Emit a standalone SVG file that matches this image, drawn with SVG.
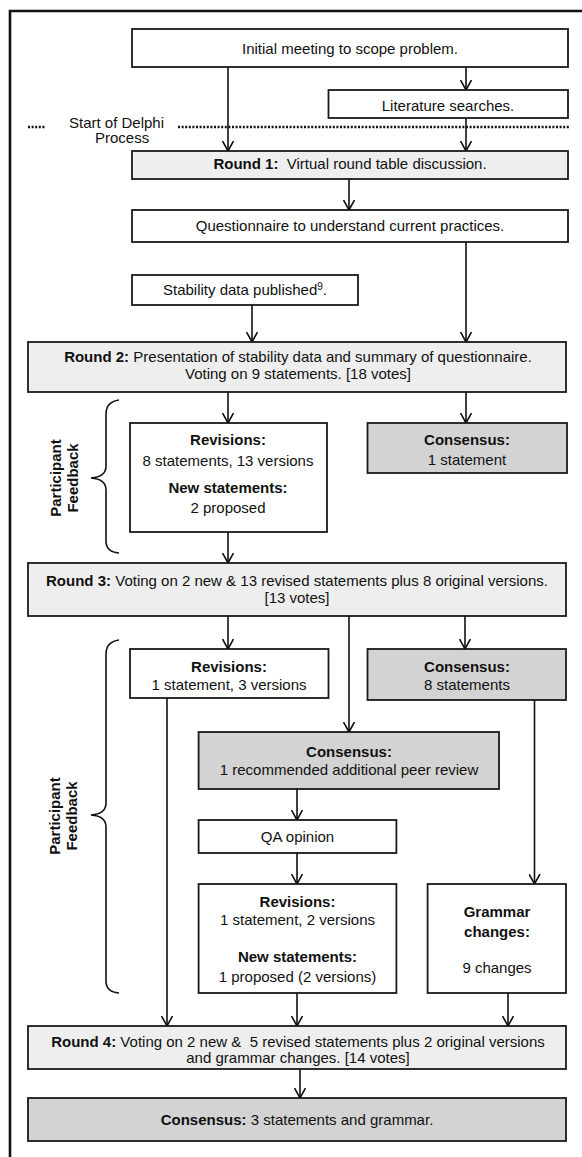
<svg xmlns="http://www.w3.org/2000/svg" width="582" height="1157" viewBox="0 0 582 1157">
<defs>
<style>
text{font-family:"Liberation Sans",Arial,sans-serif;font-size:15px;fill:#111}
.m{text-anchor:middle}
.b{font-weight:bold}
.box{fill:#fff;stroke:#1a1a1a;stroke-width:1.8}
.rd{fill:#eeeeee}
.cs{fill:#d3d3d3}
.conn line{stroke:#111;stroke-width:1.6;marker-end:url(#ah)}
.brace{fill:none;stroke:#111;stroke-width:1.6}
</style>
<marker id="ah" viewBox="0 0 10 12" refX="10" refY="6" markerWidth="10" markerHeight="12" markerUnits="userSpaceOnUse" orient="auto">
<path d="M0,0.5 L10,6 L0,11.5" fill="none" stroke="#111" stroke-width="1.6"/>
</marker>
</defs>
<rect width="582" height="1157" fill="#fff"/>
<path d="M10,1157 V11 H582" fill="none" stroke="#111" stroke-width="2.6"/>

<g id="delphi-start">
<line x1="28" y1="127" x2="46" y2="127" stroke="#111" stroke-width="2.5" stroke-dasharray="2,1.6"/>
<line x1="178" y1="127" x2="570" y2="127" stroke="#111" stroke-width="2.5" stroke-dasharray="2,1.6"/>
<text x="69" y="128">Start of Delphi</text>
<text x="95" y="143">Process</text>
</g>

<g id="initial"><rect class="box" x="132" y="29" width="436" height="38"/><text class="m" x="350" y="54">Initial meeting to scope problem.</text></g>
<g id="literature"><rect class="box" x="328.5" y="90" width="239.5" height="28"/><text class="m" x="448" y="111">Literature searches.</text></g>
<g id="round1"><rect class="box rd" x="132" y="151" width="436" height="28"/><text class="m" x="350" y="169" xml:space="preserve"><tspan class="b">Round 1:</tspan>  Virtual round table discussion.</text></g>
<g id="questionnaire"><rect class="box" x="132" y="210" width="436" height="32"/><text class="m" x="350" y="231">Questionnaire to understand current practices.</text></g>
<g id="stability"><rect class="box" x="132" y="275" width="226" height="30"/><text class="m" x="245" y="295">Stability data published<tspan font-size="10" dy="-5">9</tspan><tspan dy="5">.</tspan></text></g>
<g id="round2"><rect class="box rd" x="28" y="342" width="538" height="50"/>
<text class="m" x="298" y="362"><tspan class="b">Round 2:</tspan> Presentation of stability data and summary of questionnaire.</text>
<text class="m" x="298" y="379">Voting on 9 statements. [18 votes]</text></g>
<g id="revisions1"><rect class="box" x="130" y="423" width="197" height="109"/>
<text class="m b" x="228" y="445">Revisions:</text>
<text class="m" x="228" y="466">8 statements, 13 versions</text>
<text class="m b" x="228" y="493">New statements:</text>
<text class="m" x="228" y="513">2 proposed</text></g>
<g id="consensus1"><rect class="box cs" x="367.5" y="423" width="199.5" height="50"/>
<text class="m b" x="467" y="445">Consensus:</text>
<text class="m" x="467" y="465">1 statement</text></g>
<g id="round3"><rect class="box rd" x="28" y="563" width="538" height="53"/>
<text class="m" x="297" y="586"><tspan class="b">Round 3:</tspan> Voting on 2 new &amp; 13 revised statements plus 8 original versions.</text>
<text class="m" x="297" y="603">[13 votes]</text></g>
<g id="revisions2"><rect class="box" x="130" y="649" width="198.5" height="49"/>
<text class="m b" x="229" y="672">Revisions:</text>
<text class="m" x="229" y="690">1 statement, 3 versions</text></g>
<g id="consensus2"><rect class="box cs" x="367.5" y="649" width="198.5" height="51"/>
<text class="m b" x="467" y="672">Consensus:</text>
<text class="m" x="467" y="690">8 statements</text></g>
<g id="consensus-peer"><rect class="box cs" x="198.6" y="732" width="300.4" height="57"/>
<text class="m b" x="349" y="757">Consensus:</text>
<text class="m" x="349" y="775">1 recommended additional peer review</text></g>
<g id="qa"><rect class="box" x="198.6" y="820" width="197.8" height="33"/><text class="m" x="297.5" y="842">QA opinion</text></g>
<g id="revisions3"><rect class="box" x="198.6" y="884" width="197.8" height="109"/>
<text class="m b" x="297.5" y="907">Revisions:</text>
<text class="m" x="297.5" y="925">1 statement, 2 versions</text>
<text class="m b" x="297.5" y="962">New statements:</text>
<text class="m" x="297.5" y="982">1 proposed (2 versions)</text></g>
<g id="grammar"><rect class="box" x="427.6" y="884" width="138.4" height="109"/>
<text class="m b" x="497" y="917">Grammar</text>
<text class="m b" x="497" y="937">changes:</text>
<text class="m" x="497" y="973">9 changes</text></g>
<g id="round4"><rect class="box rd" x="28" y="1026" width="538" height="43"/>
<text class="m" x="298" y="1047" xml:space="preserve"><tspan class="b">Round 4:</tspan> Voting on 2 new &amp;  5 revised statements plus 2 original versions</text>
<text class="m" x="298" y="1063">and grammar changes. [14 votes]</text></g>
<g id="final"><rect class="box cs" x="28" y="1098" width="538" height="43"/>
<text class="m" x="297" y="1125"><tspan class="b">Consensus:</tspan> 3 statements and grammar.</text></g>

<g id="feedback1">
<path class="brace" d="M119,400 Q106,402 106,414 V466 Q106,477 91,478 Q106,479 106,490 V541 Q106,552 119,553"/>
<text class="m b" transform="translate(61,478) rotate(-90)">Participant</text>
<text class="m b" transform="translate(78,478) rotate(-90)">Feedback</text>
</g>
<g id="feedback2">
<path class="brace" d="M119,640 Q106,642 106,654 V803 Q106,814 91,815 Q106,816 106,827 V981 Q106,992 119,993"/>
<text class="m b" transform="translate(60,816) rotate(-90)">Participant</text>
<text class="m b" transform="translate(77,816) rotate(-90)">Feedback</text>
</g>

<g id="connectors" class="conn">
<line x1="228" y1="67" x2="228" y2="151"/>
<line x1="466" y1="67" x2="466" y2="90"/>
<line x1="466" y1="118" x2="466" y2="151"/>
<line x1="349" y1="179" x2="349" y2="210"/>
<line x1="466" y1="242" x2="466" y2="342"/>
<line x1="252" y1="305" x2="252" y2="342"/>
<line x1="228" y1="392" x2="228" y2="423"/>
<line x1="466" y1="392" x2="466" y2="423"/>
<line x1="228" y1="532" x2="228" y2="563"/>
<line x1="228" y1="616" x2="228" y2="649"/>
<line x1="349" y1="616" x2="349" y2="732"/>
<line x1="465" y1="616" x2="465" y2="649"/>
<line x1="167" y1="698" x2="167" y2="1026"/>
<line x1="534.5" y1="700" x2="534.5" y2="884"/>
<line x1="297" y1="789" x2="297" y2="820"/>
<line x1="297" y1="853" x2="297" y2="884"/>
<line x1="297" y1="993" x2="297" y2="1026"/>
<line x1="508" y1="993" x2="508" y2="1026"/>
<line x1="300" y1="1069" x2="300" y2="1098"/>
</g>
</svg>
